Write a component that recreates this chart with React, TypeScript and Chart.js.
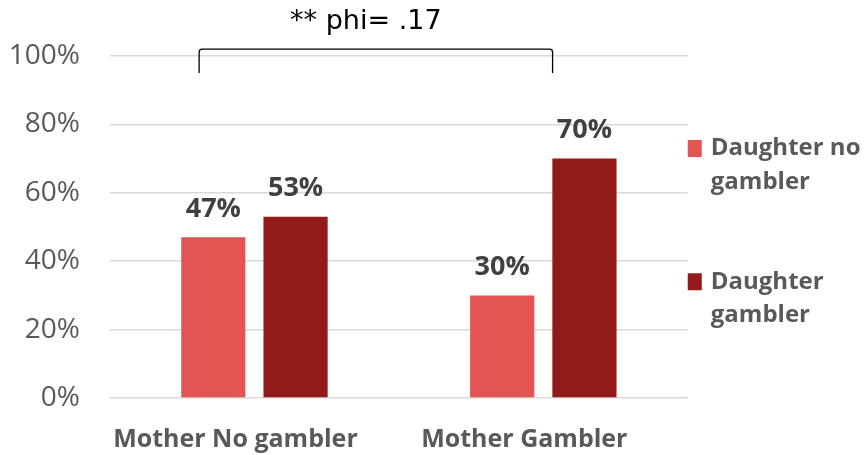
import React, { useEffect, useRef } from "react";
import { Chart, registerables } from "chart.js";

Chart.register(...registerables);

const categories = ["Mother No gambler", "Mother Gambler"];
const seriesLabels = ["Daughter no gambler", "Daughter gambler"];
const legendLines = [
  ["Daughter no", "gambler", "", ""],
  ["Daughter", "gambler"],
];
const daughterNoGambler = [47, 30];
const daughterGambler = [53, 70];
const yTickMin = 0;
const yTickMax = 100;
const yTickStep = 20;
const annotationText = "** phi= .17";
// bracket in data units (category index / percent)
const bracketFrom = -0.1915;
const bracketTo = 1.032;
const bracketTop = 102;
const bracketBottom = 95;
const annotationX = 0.3856;
const annotationY = 107.9;

const LIGHT = "#E35552";
const DARK = "#921B19";
const FONT = "'Open Sans', 'Liberation Sans', sans-serif";

const valueLabelPlugin = {
  id: "valueLabels",
  afterDatasetsDraw(chart: any) {
    const ctx = chart.ctx;
    ctx.save();
    ctx.font = `bold 27px ${FONT}`;
    ctx.fillStyle = "#404040";
    ctx.textAlign = "center";
    ctx.textBaseline = "alphabetic";
    chart.data.datasets.forEach((ds: any, di: number) => {
      const meta = chart.getDatasetMeta(di);
      meta.data.forEach((el: any, i: number) => {
        ctx.fillText(`${ds.data[i]}%`, el.x, el.y - 20.5);
      });
    });
    ctx.restore();
  },
};

const bracketPlugin = {
  id: "bracket",
  afterDraw(chart: any) {
    const ctx = chart.ctx;
    const xs = chart.scales.x;
    const ys = chart.scales.y;
    const x1 = xs.getPixelForValue(bracketFrom);
    const x2 = xs.getPixelForValue(bracketTo);
    const yt = ys.getPixelForValue(bracketTop);
    const yb = ys.getPixelForValue(bracketBottom);
    const r = 3;
    ctx.save();
    ctx.strokeStyle = "#000000";
    ctx.lineWidth = 1.3;
    ctx.beginPath();
    ctx.moveTo(x1, yb);
    ctx.lineTo(x1, yt + r);
    ctx.arcTo(x1, yt, x1 + r, yt, r);
    ctx.lineTo(x2 - r, yt);
    ctx.arcTo(x2, yt, x2, yt + r, r);
    ctx.lineTo(x2, yb);
    ctx.stroke();
    ctx.font = `27px 'DejaVu Sans', Verdana, sans-serif`;
    ctx.fillStyle = "#000000";
    ctx.textAlign = "center";
    ctx.textBaseline = "alphabetic";
    ctx.fillText(
      annotationText,
      xs.getPixelForValue(annotationX),
      ys.getPixelForValue(annotationY)
    );
    ctx.restore();
  },
};

export default function App() {
  const ref = useRef<HTMLCanvasElement | null>(null);
  useEffect(() => {
    if (!ref.current) return;
    const colors = [LIGHT, DARK];
    const chart = new Chart(ref.current, {
      type: "bar",
      data: {
        labels: categories,
        datasets: [
          {
            label: seriesLabels[0],
            data: daughterNoGambler,
            backgroundColor: LIGHT,
            categoryPercentage: 0.5694,
            barPercentage: 0.7805,
          },
          {
            label: seriesLabels[1],
            data: daughterGambler,
            backgroundColor: DARK,
            categoryPercentage: 0.5694,
            barPercentage: 0.7805,
          },
        ],
      },
      options: {
        animation: false,
        responsive: true,
        maintainAspectRatio: false,
        layout: { padding: { top: 56, left: 0, right: -6.5, bottom: 0 } },
        plugins: {
          tooltip: { enabled: false },
          legend: {
            position: "right",
            align: "start",
            fullSize: false,
            title: {
              display: true,
              text: " ",
              padding: { top: 70.5, bottom: 0 },
              font: { size: 10, lineHeight: 1 },
            },
            labels: {
              boxWidth: 11,
              boxHeight: 11,
              padding: 0,
              color: "#595959",
              font: { family: FONT, size: 24, weight: "bold", lineHeight: 33.3 / 24 },
              generateLabels: () =>
                legendLines.map((lines, i) => ({
                  text: lines,
                  fillStyle: colors[i],
                  strokeStyle: colors[i],
                  lineWidth: 6,
                  lineJoin: "miter",
                  hidden: false,
                  datasetIndex: i,
                  fontColor: "#595959",
                })) as any,
            },
          },
        },
        scales: {
          x: {
            grid: { display: false, drawTicks: false },
            border: { display: false },
            ticks: {
              color: "#595959",
              font: { family: FONT, size: 25, weight: "bold" },
              padding: 27,
              labelOffset: -19,
            },
            afterFit: (s: any) => {
              s.height = 57;
            },
          },
          y: {
            min: yTickMin,
            max: yTickMax,
            grid: { color: "#d9d9d9", lineWidth: 1.5, drawTicks: false },
            border: { display: false },
            ticks: {
              stepSize: yTickStep,
              color: "#595959",
              font: { family: FONT, size: 28 },
              padding: 30,
              callback: (v: any) => `${v}%`,
            },
            afterFit: (s: any) => {
              s.width = 110;
            },
          },
        },
      },
      plugins: [valueLabelPlugin, bracketPlugin],
    });
    return () => chart.destroy();
  }, []);
  return (
    <div style={{ position: "absolute", left: 0, top: 0, width: 864, height: 455, background: "#fff" }}>
      <canvas ref={ref} />
    </div>
  );
}
